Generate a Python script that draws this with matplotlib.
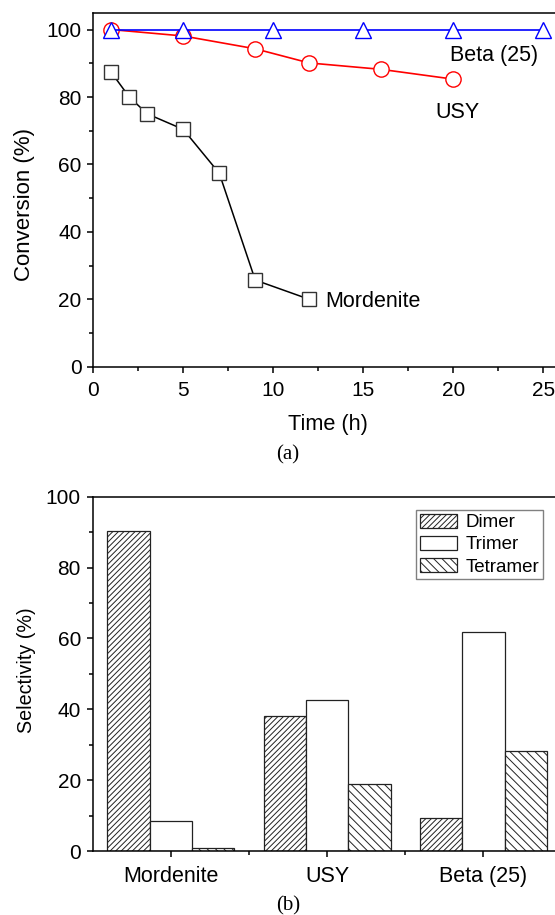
import numpy as np
import matplotlib
matplotlib.use("Agg")
import matplotlib.pyplot as plt
from matplotlib.ticker import MultipleLocator, FixedLocator

plt.rcParams["font.family"] = ["Liberation Sans", "DejaVu Sans"]
plt.rcParams["font.size"] = 15
plt.rcParams["hatch.linewidth"] = 0.7

# (a) conversion vs time
beta_t = [1, 5, 10, 15, 20, 25]
beta_conv = [100, 100, 100, 100, 100, 100]
usy_t = [1, 5, 9, 12, 16, 20]
usy_conv = [100, 98.1, 94.3, 90.1, 88.2, 85.3]
mord_t = [1, 2, 3, 5, 7, 9, 12]
mord_conv = [87.3, 80.0, 75.0, 70.4, 57.4, 25.7, 20.0]

# (b) selectivity
catalysts = ["Mordenite", "USY", "Beta (25)"]
dimer = [90.2, 38.1, 9.4]
trimer = [8.6, 42.7, 61.8]
tetramer = [0.8, 18.8, 28.3]

fig = plt.figure(figsize=(5.55, 9.15), dpi=100)

# ---- top panel
ax1 = fig.add_axes([0.1681, 0.5992, 0.843, 0.3869])
ax1.plot(mord_t, mord_conv, color="black", lw=1.1, marker="s", ms=9.5,
         mfc="white", mec="#333333", mew=1.0, zorder=3)
ax1.plot(usy_t, usy_conv, color="red", lw=1.2, marker="o", ms=11,
         mfc="white", mec="red", mew=1.0, zorder=3)
ax1.plot(beta_t, beta_conv, color="blue", lw=1.2, marker="^", ms=11,
         mfc="white", mec="blue", mew=1.0, zorder=4, clip_on=False)
ax1.text(19.8, 92.2, "Beta (25)", fontsize=15.5, va="center", ha="left")
ax1.text(19.0, 75.3, "USY", fontsize=15.5, va="center", ha="left")
ax1.text(12.9, 19.3, "Mordenite", fontsize=15.5, va="center", ha="left")
ax1.set_xlim(0, 26)
ax1.set_ylim(0, 105)
ax1.xaxis.set_major_locator(MultipleLocator(5))
ax1.xaxis.set_minor_locator(MultipleLocator(2.5))
ax1.yaxis.set_major_locator(MultipleLocator(20))
ax1.yaxis.set_minor_locator(MultipleLocator(10))
ax1.tick_params(which="major", direction="out", length=4.5, width=1.1)
ax1.tick_params(which="minor", direction="out", length=2.7, width=1.1)
ax1.tick_params(axis="x", pad=6)
ax1.tick_params(axis="y", pad=4)
ax1.set_xlabel("Time (h)", fontsize=15.7, va="center")
ax1.xaxis.set_label_coords(0.5015, -0.162)
ax1.set_ylabel("Conversion (%)", fontsize=16, va="center")
ax1.yaxis.set_label_coords(-0.148, 0.457)
for s in ax1.spines.values():
    s.set_linewidth(1.1)

# ---- bottom panel
ax2 = fig.add_axes([0.167, 0.0699, 0.845, 0.3872])
x = np.arange(1, len(catalysts) + 1)
w = 0.271
ax2.bar(x - w, dimer, w, color="white", edgecolor="#222222", hatch="//////",
        lw=0.9, label="Dimer")
ax2.bar(x, trimer, w, color="white", edgecolor="#222222", lw=0.9,
        label="Trimer")
ax2.bar(x + w, tetramer, w, color="white", edgecolor="#222222", hatch="\\\\\\\\",
        lw=0.9, label="Tetramer")
ax2.set_xlim(0.5, 3.5)
ax2.set_ylim(0, 100)
ax2.set_xticks(x)
ax2.set_xticklabels(catalysts, fontsize=15.5)
ax2.xaxis.set_minor_locator(FixedLocator([1.5, 2.5]))
ax2.yaxis.set_major_locator(MultipleLocator(20))
ax2.yaxis.set_minor_locator(MultipleLocator(10))
ax2.tick_params(which="major", direction="out", length=4.5, width=1.1)
ax2.tick_params(which="minor", direction="out", length=2.7, width=1.1)
ax2.tick_params(axis="x", pad=6)
ax2.tick_params(axis="y", pad=4)
ax2.set_ylabel("Selectivity (%)", fontsize=14.2, va="center")
ax2.yaxis.set_label_coords(-0.142, 0.511)
for s in ax2.spines.values():
    s.set_linewidth(1.1)
leg = ax2.legend(loc="upper left", bbox_to_anchor=(0.689, 0.962), fontsize=13.5,
                 fancybox=False, framealpha=1, edgecolor="gray",
                 handlelength=2.0, handleheight=0.75, handletextpad=0.45,
                 labelspacing=0.25, borderpad=0.2, borderaxespad=0)
leg.get_frame().set_linewidth(1.0)

# panel captions
fig.text(288 / 555, 1 - 455 / 915, "(a)", family=["Liberation Serif"], fontsize=15,
         ha="center", va="center")
fig.text(288 / 555, 1 - 906 / 915, "(b)", family=["Liberation Serif"], fontsize=15,
         ha="center", va="center")

fig.savefig("out.png", dpi=100)
